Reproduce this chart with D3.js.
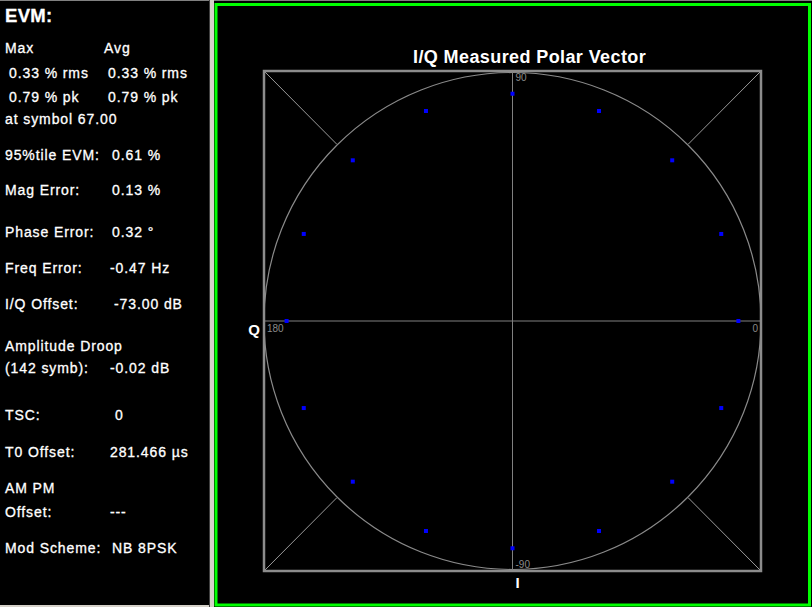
<!DOCTYPE html>
<html>
<head>
<meta charset="utf-8">
<script src="https://cdn.jsdelivr.net/npm/d3@7"></script>
<style>
  html, body { margin: 0; padding: 0; background: #d4d0c8; }
  svg { display: block; }
  text { font-family: "Liberation Sans", Arial, sans-serif; }
</style>
</head>
<body>
<div id="Diagram"></div>
<script>
// measurement summary shown in the left panel
var evmHeader = ["Max", "Avg"];
var evmRms = ["0.33 % rms", "0.33 % rms"];
var evmPk = ["0.79 % pk", "0.79 % pk"];
var evmSymbol = "at symbol 67.00";
var resultLabels = ["95%tile EVM:", "Mag Error:", "Phase Error:", "Freq Error:", "I/Q Offset:",
                    "(142 symb):", "TSC:", "T0 Offset:", "Offset:", "Mod Scheme:"];
var resultValues = ["0.61 %", "0.13 %", "0.32 \u00b0", "-0.47 Hz", "-73.00 dB",
                    "-0.02 dB", "0", "281.466 \u00b5s", "---", "NB 8PSK"];
var headingLabels = ["Amplitude Droop", "AM PM"];

// measured symbol positions (I, Q), unit magnitude
var symI = [1.000, 0.924, 0.707, 0.383, 0.000, -0.383, -0.707, -0.924,
            -1.000, -0.924, -0.707, -0.383, 0.000, 0.383, 0.707, 0.924];
var symQ = [0.000, 0.383, 0.707, 0.924, 1.000, 0.924, 0.707, 0.383,
            0.000, -0.383, -0.707, -0.924, -1.000, -0.924, -0.707, -0.383];

// polar grid labels (degrees)
var angleLabels = ["0", "90", "180", "-90"];
var fullScale = 1.1;

var W = 812, H = 607;
var svg = d3.select("#Diagram").append("svg")
    .attr("width", W).attr("height", H);

// frame pieces
svg.append("rect").attr("x", 0).attr("y", 0).attr("width", W).attr("height", H).attr("fill", "#000");
svg.append("rect").attr("x", 0).attr("y", 0).attr("width", W).attr("height", 1).attr("fill", "#808080");
svg.append("rect").attr("x", 209).attr("y", 0).attr("width", 5).attr("height", H).attr("fill", "#d4d0c8");
svg.append("rect").attr("x", 209).attr("y", 0).attr("width", 1).attr("height", H).attr("fill", "#404040");
svg.append("rect").attr("x", 0).attr("y", H - 2).attr("width", 209).attr("height", 2).attr("fill", "#d4d0c8");
svg.append("rect").attr("x", 216).attr("y", 4.5).attr("width", 593.5).attr("height", 600.5)
    .attr("fill", "none").attr("stroke", "#00ff00").attr("stroke-width", 3);

// ---- left panel text
var panel = svg.append("g").attr("fill", "#fff")
    .attr("stroke", "#fff").attr("stroke-width", 0.3)
    .style("font-size", "14px").style("letter-spacing", "0.9px");
panel.append("text").attr("x", 5).attr("y", 22).style("font-size", "18.5px")
    .style("font-weight", "bold").style("letter-spacing", "0.3px").text("EVM:");
panel.append("text").attr("x", 5).attr("y", 53).text(evmHeader[0]);
panel.append("text").attr("x", 104).attr("y", 53).text(evmHeader[1]);
panel.append("text").attr("x", 9).attr("y", 78).text(evmRms[0]);
panel.append("text").attr("x", 108).attr("y", 78).text(evmRms[1]);
panel.append("text").attr("x", 9).attr("y", 102).text(evmPk[0]);
panel.append("text").attr("x", 108).attr("y", 102).text(evmPk[1]);
panel.append("text").attr("x", 5).attr("y", 124).text(evmSymbol);

var rowY = [160, 195, 237, 273, 309, 373, 420, 457, 517, 553];
var valX = [112, 112, 112, 110, 114, 110, 115, 110, 110, 112];
resultLabels.forEach(function(d, i) {
    panel.append("text").attr("x", 5).attr("y", rowY[i]).text(d);
    panel.append("text").attr("x", valX[i]).attr("y", rowY[i]).text(resultValues[i]);
});
panel.append("text").attr("x", 5).attr("y", 351).text(headingLabels[0]);
panel.append("text").attr("x", 5).attr("y", 493).text(headingLabels[1]);

// ---- polar vector plot
var box = {left: 264, right: 761, top: 71, bottom: 571};
var x = d3.scaleLinear().domain([-fullScale, fullScale]).range([box.left, box.right]);
var y = d3.scaleLinear().domain([-fullScale, fullScale]).range([box.bottom, box.top]);
var cx = x(0), cy = y(0), R = x(fullScale) - x(0);

var plot = svg.append("g");

// corner diagonals from the box to the circle
var c45 = Math.SQRT1_2;
[[-1, 1], [1, 1], [1, -1], [-1, -1]].forEach(function(s) {
    plot.append("line")
        .attr("x1", x(s[0] * fullScale)).attr("y1", y(s[1] * fullScale))
        .attr("x2", x(s[0] * fullScale * c45)).attr("y2", y(s[1] * fullScale * c45))
        .attr("stroke", "#9a9a9a").attr("stroke-width", 1);
});

plot.append("circle").attr("cx", cx).attr("cy", cy).attr("r", R)
    .attr("fill", "none").attr("stroke", "#8a8a8a").attr("stroke-width", 1.2);

// crosshair
plot.append("line").attr("x1", x(-fullScale)).attr("x2", x(fullScale))
    .attr("y1", cy).attr("y2", cy).attr("stroke", "#808080").attr("stroke-width", 1);
plot.append("line").attr("x1", cx).attr("x2", cx)
    .attr("y1", y(fullScale)).attr("y2", y(-fullScale)).attr("stroke", "#808080").attr("stroke-width", 1);

plot.append("rect").attr("x", box.left).attr("y", box.top)
    .attr("width", box.right - box.left).attr("height", box.bottom - box.top)
    .attr("fill", "none").attr("stroke", "#8c8c8c").attr("stroke-width", 2.5);

// angle labels
var lab = plot.append("g").attr("fill", "#8a8a8a").style("font-family", "'DejaVu Sans', sans-serif").style("font-size", "10px");
lab.append("text").attr("x", x(fullScale) - 3).attr("y", cy + 11).attr("text-anchor", "end").text(angleLabels[0]);
lab.append("text").attr("x", cx + 3).attr("y", y(fullScale) + 10).text(angleLabels[1]);
lab.append("text").attr("x", x(-fullScale) + 3).attr("y", cy + 11).text(angleLabels[2]);
lab.append("text").attr("x", cx + 3).attr("y", y(-fullScale) - 3).text(angleLabels[3]);

// symbol points
var pts = symI.map(function(v, i) { return {i: v, q: symQ[i]}; });
plot.append("g").selectAll("rect")
    .data(pts).enter().append("rect")
    .attr("x", function(d) { return x(d.i) - 2; })
    .attr("y", function(d) { return y(d.q) - 2; })
    .attr("width", 4).attr("height", 4)
    .attr("fill", "#0000ff");

// titles
svg.append("text").attr("x", 413).attr("y", 63)
    .attr("fill", "#fff").style("font-size", "18px").style("font-weight", "bold")
    .style("letter-spacing", "0.4px")
    .text("I/Q Measured Polar Vector");
svg.append("text").attr("x", 254).attr("y", cy + 14).attr("text-anchor", "middle")
    .attr("fill", "#fff").style("font-size", "15px").style("font-weight", "bold").text("Q");
svg.append("text").attr("x", cx + 5).attr("y", 588).attr("text-anchor", "middle")
    .attr("fill", "#fff").style("font-size", "15px").style("font-weight", "bold").text("I");
</script>
</body>
</html>
